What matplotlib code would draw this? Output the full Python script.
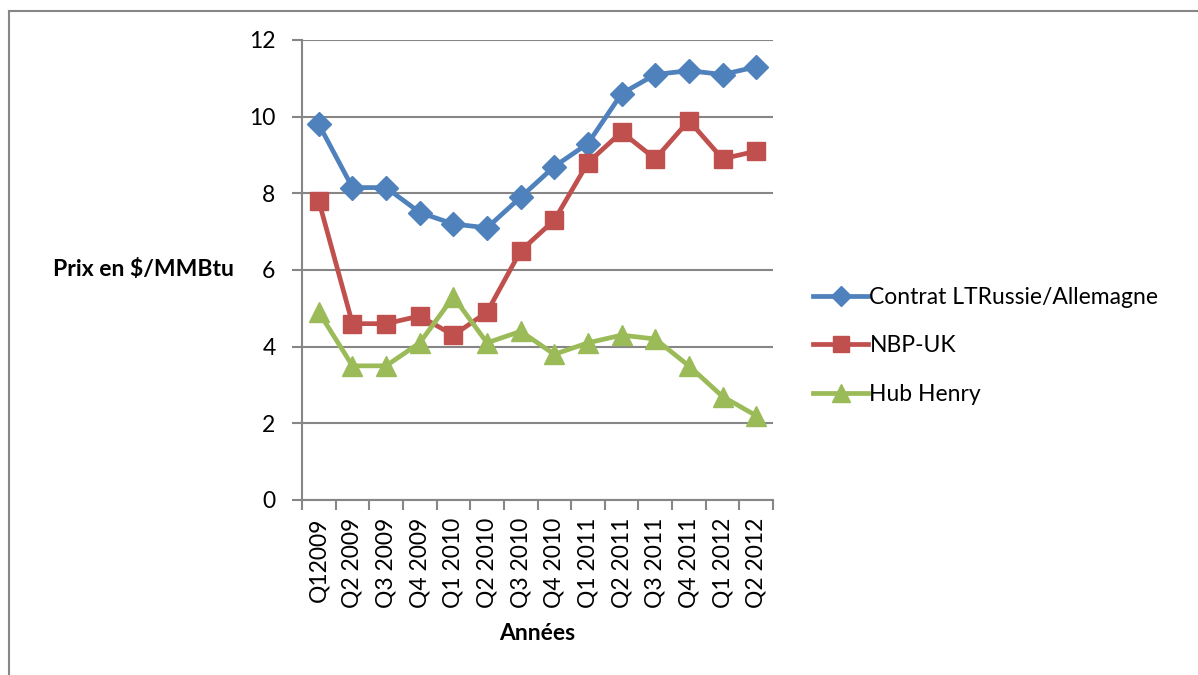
import matplotlib
matplotlib.use("Agg")
import matplotlib.pyplot as plt
from matplotlib.lines import Line2D
from matplotlib.ticker import FixedLocator

plt.rcParams['font.family'] = ['Lato', 'DejaVu Sans']

quarters = ["Q12009", "Q2 2009", "Q3 2009", "Q4 2009", "Q1 2010", "Q2 2010",
            "Q3 2010", "Q4 2010", "Q1 2011", "Q2 2011", "Q3 2011", "Q4 2011",
            "Q1 2012", "Q2 2012"]
russie_allemagne = [9.8, 8.15, 8.15, 7.5, 7.2, 7.1, 7.9, 8.7, 9.3, 10.6, 11.1, 11.2, 11.1, 11.3]
nbp_uk = [7.8, 4.6, 4.6, 4.8, 4.3, 4.9, 6.5, 7.3, 8.8, 9.6, 8.9, 9.9, 8.9, 9.1]
hub_henry = [4.9, 3.5, 3.5, 4.1, 5.3, 4.1, 4.4, 3.8, 4.1, 4.3, 4.2, 3.5, 2.7, 2.2]

grey = "#868686"
W, H = 1198, 675
fs = 16.5

fig = plt.figure(figsize=(W / 100, H / 100), dpi=100)
ax = fig.add_axes([302 / W, 1 - 500 / H, (773 - 302) / W, (500 - 40) / H])

x = list(range(len(quarters)))
ax.plot(x, russie_allemagne, color="#4F81BD", lw=3.4, marker="D", ms=12,
        label="Contrat LTRussie/Allemagne")
ax.plot(x, nbp_uk, color="#C0504D", lw=3.4, marker="s", ms=13.5, label="NBP-UK")
ax.plot(x, hub_henry, color="#9BBB59", lw=3.4, marker="^", ms=14.5, label="Hub Henry")

ax.set_ylim(0, 12)
ax.set_yticks(range(0, 13, 2))
ax.set_xlim(-0.5, len(quarters) - 0.5)
ax.yaxis.grid(True, color=grey, lw=1.5)
ax.set_axisbelow(True)

# category boundaries carry the ticks, centres carry the labels
ax.xaxis.set_major_locator(FixedLocator([i - 0.5 for i in range(len(quarters) + 1)]))
ax.xaxis.set_major_formatter(plt.NullFormatter())
ax.xaxis.set_minor_locator(FixedLocator(x))
ax.set_xticklabels(quarters, minor=True, rotation=90, fontsize=fs)
ax.tick_params(axis="x", which="major", length=7, width=1.5, color=grey)
ax.tick_params(axis="x", which="minor", length=0, pad=13)
ax.tick_params(axis="y", length=7, width=1.5, color=grey, labelsize=fs, pad=12)

for side in ("top", "right"):
    ax.spines[side].set_visible(False)
for side in ("left", "bottom"):
    ax.spines[side].set_color(grey)
    ax.spines[side].set_linewidth(1.5)

fig.text(143 / W, 1 - 270 / H, "Prix en $/MMBtu", fontsize=fs, fontweight="bold",
         ha="center", va="center")
fig.text(537 / W, 1 - 634 / H, "Années", fontsize=fs, fontweight="bold",
         ha="center", va="center")

fig.legend(loc="center left", bbox_to_anchor=(795 / W, 1 - 346 / H), frameon=False,
           fontsize=fs, handlelength=2.4, handletextpad=0.05, labelspacing=1.2,
           markerscale=0.85, borderpad=0.3)

# outer chart frame
fig.add_artist(Line2D([9 / W, 9 / W], [0, 1 - 11 / H], color=grey, lw=1.5))
fig.add_artist(Line2D([9 / W, 1], [1 - 11 / H, 1 - 11 / H], color=grey, lw=1.5))

fig.savefig("out.png", dpi=100)
